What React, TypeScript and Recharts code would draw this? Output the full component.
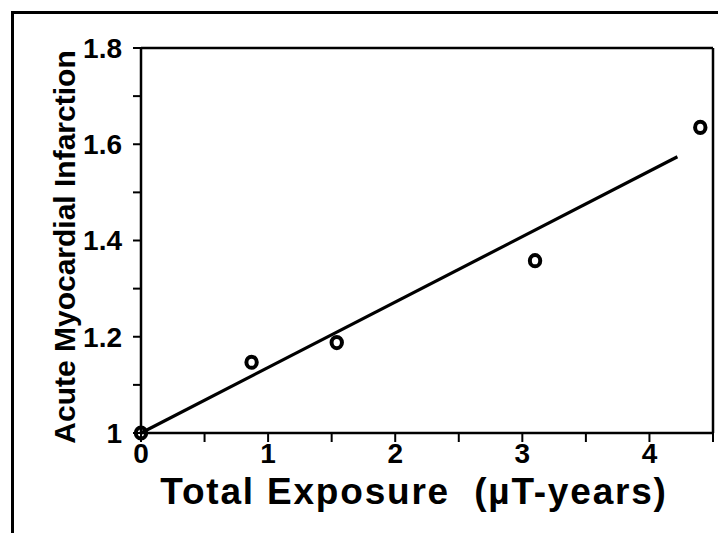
import {
  ComposedChart,
  Label,
  ReferenceLine,
  Scatter,
  XAxis,
  YAxis,
} from 'recharts';

const exposure = [0, 0.87, 1.54, 3.1, 4.4];
const risk = [1.0, 1.147, 1.188, 1.358, 1.635];

const fitExposure = [0, 4.22];
const fitRisk = [1.0, 1.574];

const xTicks = [0, 0.5, 1, 1.5, 2, 2.5, 3, 3.5, 4, 4.5];
const yTicks = [1, 1.1, 1.2, 1.3, 1.4, 1.5, 1.6, 1.7, 1.8];

const points = exposure.map((x, i) => ({ x, y: risk[i] }));
const fit = fitExposure.map((x, i) => ({ x, y: fitRisk[i] }));

const font = '"Liberation Sans", Arial, sans-serif';
const narrow = '"Liberation Sans Narrow", "Arial Narrow", "Liberation Sans", sans-serif';

const Ring = (props: any) => {
  const { cx, cy } = props;
  if (cx == null || cy == null) return null;
  return <ellipse cx={cx} cy={cy} rx={5.2} ry={5.6} fill="none" stroke="#000" strokeWidth={4} />;
};

const YTitle = () => {
  const x = 75;
  const y = 247;
  return (
    <text
      x={x}
      y={y}
      transform={`rotate(-90, ${x}, ${y})`}
      textAnchor="middle"
      fontFamily={font}
      fontWeight="bold"
      fontSize={30}
      fill="#000"
    >
      Acute Myocardial Infarction
    </text>
  );
};

const XTitle = () => (
  <text
    x={414}
    y={504}
    textAnchor="middle"
    fontFamily={font}
    fontWeight="bold"
    fontSize={37}
    letterSpacing={1.8}
    fill="#000"
  >
    {'Total Exposure \u00a0(µT-years)'}
  </text>
);

export default function App() {
  const tick = { fill: '#000', fontSize: 28, fontWeight: 'bold', fontFamily: narrow };
  return (
    <div style={{ position: 'absolute', left: 0, top: 0, width: 718, height: 533, overflow: 'hidden', background: '#fff' }}>
      <div
        style={{
          position: 'absolute',
          left: 11,
          top: 11,
          width: 760,
          height: 600,
          border: '3px solid #000',
        }}
      />
      <div style={{ position: 'absolute', left: 0, top: 0 }}>
        <ComposedChart width={718} height={533} margin={{ top: 48, right: 5, bottom: 0, left: 0 }}>
          <XAxis
            type="number"
            dataKey="x"
            domain={[0, 4.5]}
            ticks={xTicks}
            tickFormatter={(v: number) => (Number.isInteger(v) ? String(v) : '')}
            height={100}
            tick={tick}
            tickSize={9}
            tickMargin={1}
            axisLine={{ stroke: '#000', strokeWidth: 2.5 }}
            tickLine={{ stroke: '#000', strokeWidth: 2 }}
          >
            <Label content={<XTitle />} />
          </XAxis>
          <YAxis
            type="number"
            dataKey="y"
            domain={[1, 1.8]}
            ticks={yTicks}
            tickFormatter={(v: number) => (Math.round(v * 10) % 2 === 0 ? String(Number(v.toFixed(1))) : '')}
            width={141}
            tick={tick}
            tickSize={8}
            tickMargin={11}
            axisLine={{ stroke: '#000', strokeWidth: 2.5 }}
            tickLine={{ stroke: '#000', strokeWidth: 2 }}
          >
            <Label content={<YTitle />} />
          </YAxis>
          <ReferenceLine y={1.8} stroke="#000" strokeWidth={2.5} />
          <ReferenceLine x={4.5} stroke="#000" strokeWidth={2.5} />
          <Scatter
            data={fit}
            line={{ stroke: '#000', strokeWidth: 3.2 }}
            shape={() => null}
            isAnimationActive={false}
          />
          <Scatter data={points} shape={<Ring />} isAnimationActive={false} />
        </ComposedChart>
      </div>
    </div>
  );
}
